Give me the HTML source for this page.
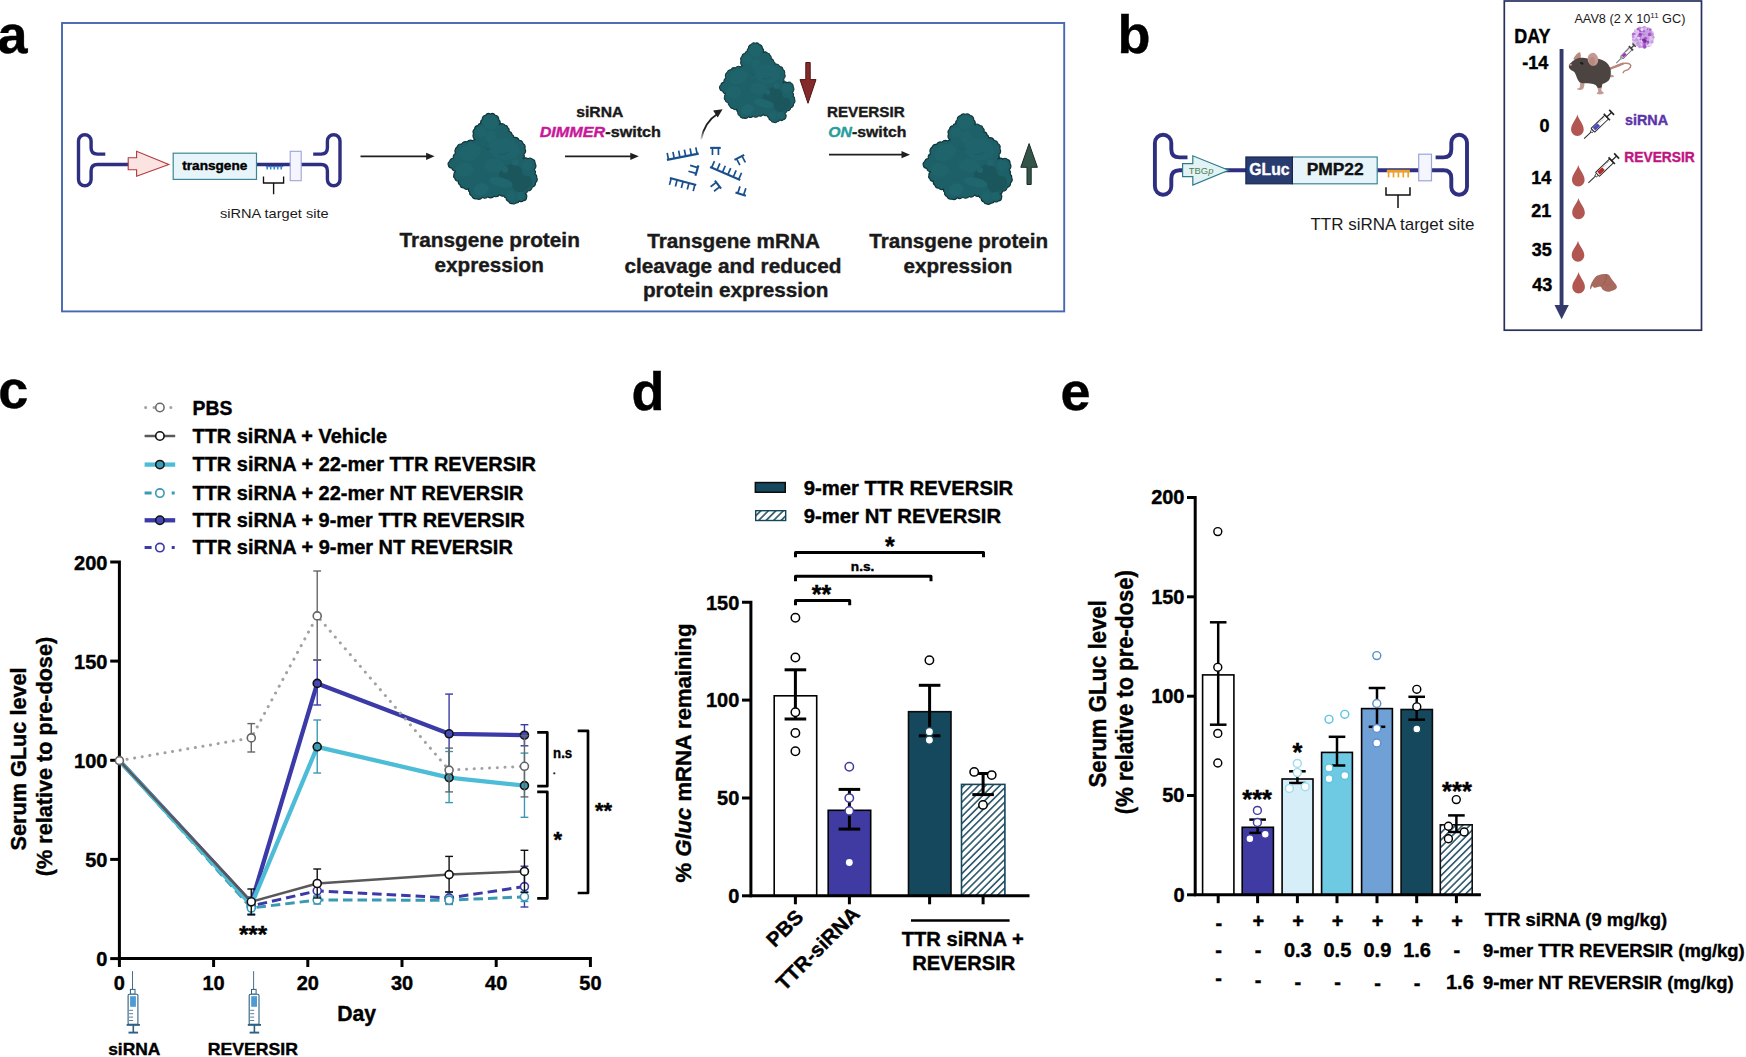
<!DOCTYPE html>
<html lang="en"><head><meta charset="utf-8"><title>Figure</title>
<style>
html,body{margin:0;padding:0;background:#fff;}
body{width:1746px;height:1057px;overflow:hidden;}
svg{display:block;font-family:"Liberation Sans",sans-serif;}
</style></head><body>
<svg width="1746" height="1057" viewBox="0 0 1746 1057">
<defs>
<g id="blob">
<path d="M52.22,19.58 A4.24,4.24 0 0 1 55.48,15.23 A3.95,3.95 0 0 1 60.38,13.93 A3.95,3.95 0 0 1 65.27,15.23 A4.35,4.35 0 0 1 68.76,19.58 A3.88,3.88 0 0 1 69.63,24.48 A4.28,4.28 0 0 1 75.07,25.24 A2.88,2.88 0 0 1 77.79,27.74 A3.09,3.09 0 0 1 78.87,31.55 A3.6,3.6 0 0 1 82.14,34.81 A2.47,2.47 0 0 1 83.77,37.53 A4.74,4.74 0 0 1 89.21,40.25 A3.91,3.91 0 0 1 93.02,43.52 A4.08,4.08 0 0 1 94.87,48.41 A4.74,4.74 0 0 1 93.78,54.4 A3.45,3.45 0 0 1 93.02,58.75 A3.82,3.82 0 0 1 97.91,58.75 A3.84,3.84 0 0 1 102.81,59.29 A3.42,3.42 0 0 1 104.98,63.1 A5.13,5.13 0 0 1 104.22,69.63 A3.45,3.45 0 0 1 104.98,73.98 A2.85,2.85 0 0 1 106.61,77.24 A4.33,4.33 0 0 1 105.53,82.68 A4.24,4.24 0 0 1 102.26,87.03 A4.84,4.84 0 0 1 97.37,90.84 A2.72,2.72 0 0 1 95.19,93.56 A3.17,3.17 0 0 1 96.61,97.37 A3.48,3.48 0 0 1 93.56,100.63 A3.4,3.4 0 0 1 89.21,100.96 A2.93,2.93 0 0 1 85.94,102.81 A3.03,3.03 0 0 1 82.14,103.57 A2.93,2.93 0 0 1 78.87,101.72 A3.65,3.65 0 0 1 76.15,97.91 A2.4,2.4 0 0 1 73.98,95.74 A3.5,3.5 0 0 1 69.63,94.65 A4.43,4.43 0 0 1 64.19,96.28 A5.11,5.11 0 0 1 57.66,96.82 A4.26,4.26 0 0 1 52.22,97.37 A4.38,4.38 0 0 1 46.78,98.78 A4.29,4.29 0 0 1 41.88,96.28 A3.79,3.79 0 0 1 39.71,91.93 A2.68,2.68 0 0 1 38.62,88.66 A3.86,3.86 0 0 1 33.72,87.9 A3.8,3.8 0 0 1 29.92,84.86 A3.17,3.17 0 0 1 28.5,81.05 A3.58,3.58 0 0 1 24.8,78.33 A2.63,2.63 0 0 1 23.93,75.07 A3.42,3.42 0 0 1 26.11,71.26 A4.24,4.24 0 0 1 21.76,67.99 A3.55,3.55 0 0 1 18.28,65.06 A2.98,2.98 0 0 1 19.58,61.47 A3.91,3.91 0 0 1 23.39,58.2 A4.18,4.18 0 0 1 25.57,53.31 A5.25,5.25 0 0 1 27.2,46.78 A4,4 0 0 1 31.55,44.06 A4.57,4.57 0 0 1 36.99,41.88 A4.74,4.74 0 0 1 42.97,40.8 A1.9,1.9 0 0 1 45.15,39.71 A4.84,4.84 0 0 1 43.52,33.72 A3.91,3.91 0 0 1 44.6,28.83 A3.6,3.6 0 0 1 47.87,25.57 A2.92,2.92 0 0 1 50.91,23.39 A3.14,3.14 0 0 1 52.22,19.58Z" fill="#1e6068" stroke="#0d3439" stroke-width="1.15" stroke-linejoin="round"/>
<path d="M76.15,66.36 C78.15,65.18 80.32,63.46 82.68,63.64 C85.04,63.82 88.48,65.55 90.3,67.45 C92.11,69.35 91.84,73.43 93.56,75.07 C95.28,76.7 99.27,75.61 100.63,77.24 C101.99,78.87 102.53,82.68 101.72,84.86 C100.9,87.03 97.82,89.03 95.74,90.3 C93.65,91.57 91.2,92.65 89.21,92.47 C87.21,92.29 85.22,90.84 83.77,89.21 C82.32,87.58 82.86,84.68 80.5,82.68 C78.15,80.69 71.26,79.24 69.63,77.24 C67.99,75.25 69.63,72.53 70.71,70.71 C71.8,68.9 74.16,67.54 76.15,66.36Z" fill="#1b565d"/>
<ellipse cx="60.38" cy="22.3" rx="7.4" ry="7.18" fill="#1f636b" transform="rotate(0 60.38 22.3)"/>
<ellipse cx="51.13" cy="32.09" rx="5.66" ry="5.22" fill="#1f636b" transform="rotate(0 51.13 32.09)"/>
<ellipse cx="60.92" cy="36.99" rx="5.66" ry="6.31" fill="#1f636b" transform="rotate(0 60.92 36.99)"/>
<ellipse cx="40.25" cy="52.22" rx="11.42" ry="8.16" fill="#1f636b" transform="rotate(-20 40.25 52.22)"/>
<ellipse cx="73.98" cy="48.96" rx="15.23" ry="10.88" fill="#1f646c" transform="rotate(10 73.98 48.96)"/>
<ellipse cx="64.19" cy="65.27" rx="10.34" ry="7.07" fill="#1f636b" transform="rotate(0 64.19 65.27)"/>
<ellipse cx="34.81" cy="69.63" rx="9.25" ry="7.07" fill="#1f636b" transform="rotate(0 34.81 69.63)"/>
<ellipse cx="51.13" cy="89.21" rx="7.62" ry="5.98" fill="#20666e" transform="rotate(-20 51.13 89.21)"/>
<ellipse cx="70.71" cy="82.14" rx="11.97" ry="4.57" fill="#20666e" transform="rotate(12 70.71 82.14)"/>
<ellipse cx="85.4" cy="62.55" rx="3.59" ry="3.26" fill="#20656d" transform="rotate(0 85.4 62.55)"/>
<ellipse cx="97.37" cy="65.27" rx="5.44" ry="5.66" fill="#1f636b" transform="rotate(0 97.37 65.27)"/>
<ellipse cx="81.05" cy="95.74" rx="4.57" ry="5" fill="#1f636b" transform="rotate(0 81.05 95.74)"/>
<ellipse cx="90.3" cy="95.74" rx="3.92" ry="3.92" fill="#1f636b" transform="rotate(0 90.3 95.74)"/>
<ellipse cx="75.07" cy="69.63" rx="2.83" ry="3.05" fill="#20656d" transform="rotate(0 75.07 69.63)"/>
<path d="M54.4,46.78 C54.94,47.23 56.57,49.32 57.66,49.5 C58.75,49.68 60.38,48.14 60.92,47.87" fill="none" stroke="#1a555c" stroke-width="0.7" stroke-linecap="round"/>
<path d="M69.63,54.4 C70.53,54.3 73.61,54.21 75.07,53.85 C76.52,53.49 77.79,52.49 78.33,52.22" fill="none" stroke="#1a555c" stroke-width="0.7" stroke-linecap="round"/>
</g>
<pattern id="hatch" width="5.06" height="5.06" patternUnits="userSpaceOnUse" patternTransform="rotate(-45) translate(0 0)"><rect width="5.06" height="5.06" fill="#fff"/><line x1="0" y1="2.53" x2="5.06" y2="2.53" stroke="#14465c" stroke-width="1.45"/></pattern>
<pattern id="hatchs" width="5.06" height="5.06" patternUnits="userSpaceOnUse" patternTransform="rotate(-45) translate(1.2 1.2)"><rect width="5.06" height="5.06" fill="#fff"/><line x1="0" y1="2.53" x2="5.06" y2="2.53" stroke="#14465c" stroke-width="1.45"/></pattern>
<pattern id="hatchl" width="5.3" height="5.3" patternUnits="userSpaceOnUse" patternTransform="rotate(-45) translate(0.8 0.8)"><rect width="5.3" height="5.3" fill="#fff"/><line x1="0" y1="2.65" x2="5.3" y2="2.65" stroke="#14465c" stroke-width="1.5"/></pattern>
</defs>
<g id="panel-a">
<text x="-2.5" y="52.7" font-size="54" font-weight="bold" stroke="#000" stroke-width="0.4">a</text>
<rect x="62" y="23" width="1002.2" height="288.4" fill="none" stroke="#4668b2" stroke-width="1.9"/>
<path d="M105.3,154.1 H97.4 Q91.1,154.1 91.1,147.8 V141 A6.3,6.3 0 0 0 78.5,141 V179.5 A6.3,6.3 0 0 0 91.1,179.5 V170.8 Q91.1,164.5 97.4,164.5 H130" fill="none" stroke="#2e2f80" stroke-width="3.4" stroke-linejoin="round"/>
<path d="M313.2,154.1 H321.1 Q327.4,154.1 327.4,147.8 V141 A6.3,6.3 0 0 1 340,141 V179.5 A6.3,6.3 0 0 1 327.4,179.5 V170.8 Q327.4,164.5 321.1,164.5 H255" fill="none" stroke="#2e2f80" stroke-width="3.4" stroke-linejoin="round"/>
<path d="M128.2,157.7 H136.6 V151.3 L168.8,164.5 L136.6,176.3 V169.7 H128.2Z" fill="#fbe3e1" stroke="#b2393c" stroke-width="1.1" stroke-linejoin="miter"/>
<line x1="265.8" y1="166.6" x2="283.2" y2="166.6" stroke="#3d7fc4" stroke-width="1.2"/>
<line x1="267.2" y1="166" x2="267.2" y2="169.5" stroke="#3d7fc4" stroke-width="1.5"/>
<line x1="270.7" y1="166" x2="270.7" y2="169.5" stroke="#3d7fc4" stroke-width="1.5"/>
<line x1="274.2" y1="166" x2="274.2" y2="169.5" stroke="#3d7fc4" stroke-width="1.5"/>
<line x1="277.7" y1="166" x2="277.7" y2="169.5" stroke="#3d7fc4" stroke-width="1.5"/>
<line x1="281.2" y1="166" x2="281.2" y2="169.5" stroke="#3d7fc4" stroke-width="1.5"/>
<rect x="173.2" y="153.2" width="83.3" height="26.2" fill="#e7f5fb" stroke="#3b8794" stroke-width="1.2"/>
<text x="214.8" y="170.3" font-size="13" font-weight="bold" stroke="#000" stroke-width="0.4" text-anchor="middle" textLength="65" lengthAdjust="spacingAndGlyphs">transgene</text>
<rect x="290.2" y="151.3" width="11" height="29.4" fill="#f5f5fd" stroke="#9ea3da" stroke-width="1.1"/>
<path d="M263.5,176.6 V183 H283.6 V176.6 M273.6,183 V194.2" fill="none" stroke="#111" stroke-width="1.35"/>
<text x="274.3" y="217.9" font-size="12.2" text-anchor="middle" fill="#1a1a1a" textLength="108.6" lengthAdjust="spacingAndGlyphs">siRNA target site</text>
<line x1="360.5" y1="156.3" x2="427.1" y2="156.3" stroke="#1f1f1f" stroke-width="1.8"/>
<path d="M434.6,156.3 L426.1,152.7 L426.1,159.9Z" fill="#1f1f1f"/>
<line x1="565" y1="156.3" x2="631.3" y2="156.3" stroke="#1f1f1f" stroke-width="1.8"/>
<path d="M638.8,156.3 L630.3,152.7 L630.3,159.9Z" fill="#1f1f1f"/>
<line x1="829" y1="154.7" x2="902.5" y2="154.7" stroke="#1f1f1f" stroke-width="1.8"/>
<path d="M910,154.7 L901.5,151.1 L901.5,158.3Z" fill="#1f1f1f"/>
<use href="#blob" transform="translate(430,100)"/>
<use href="#blob" transform="translate(704.2,31) scale(0.847,0.881)"/>
<use href="#blob" transform="translate(905,100.3)"/>
<g stroke="#19508c" stroke-linecap="butt" fill="none">
<line x1="666.92" y1="159.9" x2="698.71" y2="153.64" stroke="#19508c" stroke-width="2.1"/>
<line x1="668.51" y1="159.59" x2="667.2" y2="152.96" stroke="#19508c" stroke-width="1.7"/>
<line x1="674.23" y1="158.46" x2="672.93" y2="151.83" stroke="#19508c" stroke-width="1.7"/>
<line x1="679.95" y1="157.33" x2="678.65" y2="150.71" stroke="#19508c" stroke-width="1.7"/>
<line x1="685.67" y1="156.21" x2="684.37" y2="149.58" stroke="#19508c" stroke-width="1.7"/>
<line x1="691.4" y1="155.08" x2="690.09" y2="148.45" stroke="#19508c" stroke-width="1.7"/>
<line x1="697.12" y1="153.95" x2="695.81" y2="147.33" stroke="#19508c" stroke-width="1.7"/>
<line x1="669.9" y1="177.98" x2="696.22" y2="184.93" stroke="#19508c" stroke-width="2.1"/>
<line x1="671.22" y1="178.33" x2="669.49" y2="184.86" stroke="#19508c" stroke-width="1.7"/>
<line x1="677.14" y1="179.89" x2="675.41" y2="186.42" stroke="#19508c" stroke-width="1.7"/>
<line x1="683.06" y1="181.45" x2="681.34" y2="187.98" stroke="#19508c" stroke-width="1.7"/>
<line x1="688.98" y1="183.02" x2="687.26" y2="189.55" stroke="#19508c" stroke-width="1.7"/>
<line x1="694.91" y1="184.58" x2="693.18" y2="191.11" stroke="#19508c" stroke-width="1.7"/>
<line x1="710.13" y1="167.05" x2="740.23" y2="179.96" stroke="#19508c" stroke-width="2.1"/>
<line x1="711.64" y1="167.7" x2="714.46" y2="161.12" stroke="#19508c" stroke-width="1.7"/>
<line x1="717.05" y1="170.02" x2="719.87" y2="163.45" stroke="#19508c" stroke-width="1.7"/>
<line x1="722.47" y1="172.35" x2="725.29" y2="165.77" stroke="#19508c" stroke-width="1.7"/>
<line x1="727.89" y1="174.67" x2="730.71" y2="168.1" stroke="#19508c" stroke-width="1.7"/>
<line x1="733.31" y1="176.99" x2="736.13" y2="170.42" stroke="#19508c" stroke-width="1.7"/>
<line x1="738.72" y1="179.32" x2="741.54" y2="172.75" stroke="#19508c" stroke-width="1.7"/>
<line x1="698.41" y1="165.36" x2="695.43" y2="175.69" stroke="#19508c" stroke-width="2.1"/>
<line x1="697.75" y1="167.63" x2="690.12" y2="165.43" stroke="#19508c" stroke-width="1.7"/>
<line x1="696.08" y1="173.42" x2="688.45" y2="171.22" stroke="#19508c" stroke-width="1.7"/>
<line x1="710.13" y1="147.88" x2="720.76" y2="147.88" stroke="#19508c" stroke-width="2.1"/>
<line x1="712.47" y1="147.88" x2="712.47" y2="155.03" stroke="#19508c" stroke-width="1.7"/>
<line x1="718.42" y1="147.88" x2="718.42" y2="155.03" stroke="#19508c" stroke-width="1.7"/>
<line x1="734.47" y1="159.9" x2="744.2" y2="154.93" stroke="#19508c" stroke-width="2.1"/>
<line x1="736.61" y1="158.81" x2="739.86" y2="165.18" stroke="#19508c" stroke-width="1.7"/>
<line x1="742.06" y1="156.02" x2="745.31" y2="162.4" stroke="#19508c" stroke-width="1.7"/>
<line x1="714.9" y1="180.66" x2="721.06" y2="188.71" stroke="#19508c" stroke-width="2.1"/>
<line x1="716.25" y1="182.43" x2="710.57" y2="186.78" stroke="#19508c" stroke-width="1.7"/>
<line x1="719.7" y1="186.94" x2="714.02" y2="191.28" stroke="#19508c" stroke-width="1.7"/>
<line x1="735.46" y1="192.38" x2="745.89" y2="195.86" stroke="#19508c" stroke-width="2.1"/>
<line x1="737.76" y1="193.15" x2="740.02" y2="186.36" stroke="#19508c" stroke-width="1.7"/>
<line x1="743.6" y1="195.09" x2="745.86" y2="188.31" stroke="#19508c" stroke-width="1.7"/>
</g>
<defs><linearGradient id="cag" x1="0" y1="1" x2="0" y2="0"><stop offset="0" stop-color="#1f1f1f" stop-opacity="0.15"/><stop offset="0.35" stop-color="#1f1f1f"/></linearGradient></defs>
<path d="M701.2,139.3 Q704.5,122 718,113.5" fill="none" stroke="url(#cag)" stroke-width="1.9"/>
<path d="M722.6,109.3 L713.1,110.5 L717.7,117.5Z" fill="#1f1f1f"/>
<path d="M805.8,62.5 H810.2 V79.6 H816 L808,103.3 L800,79.6 H805.8Z" fill="#842a2a" stroke="#4d1414" stroke-width="1" stroke-linejoin="miter"/>
<path d="M1027,184.5 H1031.2 V167.3 H1037.4 L1029.1,143.6 L1020.8,167.3 H1027Z" fill="#33554a" stroke="#1a2b25" stroke-width="1" stroke-linejoin="miter"/>
<text x="489.7" y="246.8" font-size="20.6" font-weight="bold" stroke="#1a1a1a" stroke-width="0.4" text-anchor="middle" fill="#1a1a1a" textLength="180.3" lengthAdjust="spacingAndGlyphs">Transgene protein</text>
<text x="489.2" y="272.2" font-size="20.6" font-weight="bold" stroke="#1a1a1a" stroke-width="0.4" text-anchor="middle" fill="#1a1a1a" textLength="109.3" lengthAdjust="spacingAndGlyphs">expression</text>
<text x="599.8" y="117.2" font-size="15.5" font-weight="bold" stroke="#1a1a1a" stroke-width="0.4" text-anchor="middle" fill="#1a1a1a" textLength="47.1" lengthAdjust="spacingAndGlyphs">siRNA</text>
<text x="539.7" y="136.6" font-size="15.5" font-weight="bold" stroke="#1a1a1a" stroke-width="0.4" fill="#1a1a1a" textLength="121.3" lengthAdjust="spacingAndGlyphs"><tspan fill="#c8189a" stroke="#c8189a" font-style="italic">DIMMER</tspan>-switch</text>
<text x="827" y="117.4" font-size="15.5" font-weight="bold" stroke="#1a1a1a" stroke-width="0.4" fill="#1a1a1a" textLength="77.6" lengthAdjust="spacingAndGlyphs">REVERSIR</text>
<text x="828.2" y="137" font-size="15.5" font-weight="bold" stroke="#1a1a1a" stroke-width="0.4" fill="#1a1a1a" textLength="78.2" lengthAdjust="spacingAndGlyphs"><tspan fill="#2a9d9d" stroke="#2a9d9d" font-style="italic">ON</tspan>-switch</text>
<text x="733.6" y="247.7" font-size="20.6" font-weight="bold" stroke="#1a1a1a" stroke-width="0.4" text-anchor="middle" fill="#1a1a1a" textLength="172.6" lengthAdjust="spacingAndGlyphs">Transgene mRNA</text>
<text x="732.9" y="272.6" font-size="20.6" font-weight="bold" stroke="#1a1a1a" stroke-width="0.4" text-anchor="middle" fill="#1a1a1a" textLength="217" lengthAdjust="spacingAndGlyphs">cleavage and reduced</text>
<text x="735.7" y="297.3" font-size="20.6" font-weight="bold" stroke="#1a1a1a" stroke-width="0.4" text-anchor="middle" fill="#1a1a1a" textLength="185.5" lengthAdjust="spacingAndGlyphs">protein expression</text>
<text x="958.7" y="247.7" font-size="20.6" font-weight="bold" stroke="#1a1a1a" stroke-width="0.4" text-anchor="middle" fill="#1a1a1a" textLength="179" lengthAdjust="spacingAndGlyphs">Transgene protein</text>
<text x="958" y="272.6" font-size="20.6" font-weight="bold" stroke="#1a1a1a" stroke-width="0.4" text-anchor="middle" fill="#1a1a1a" textLength="108.8" lengthAdjust="spacingAndGlyphs">expression</text>
</g>
<g id="panel-b">
<text x="1117.5" y="53.3" font-size="54" font-weight="bold" stroke="#000" stroke-width="0.4">b</text>
<path d="M1187.5,157.4 H1179.5 Q1171.3,157.4 1171.3,149.2 V143 A8.2,8.2 0 0 0 1154.9,143 V186.6 A8.2,8.2 0 0 0 1171.3,186.6 V178.4 Q1171.3,170.2 1179.5,170.2 H1246" fill="none" stroke="#2e2f80" stroke-width="3.9" stroke-linejoin="round"/>
<path d="M1435.6,157.4 H1443.45 Q1451.3,157.4 1451.3,149.55 V142.65 A7.85,7.85 0 0 1 1467,142.65 V186.95 A7.85,7.85 0 0 1 1451.3,186.95 V178.05 Q1451.3,170.2 1443.45,170.2 H1377" fill="none" stroke="#2e2f80" stroke-width="3.9" stroke-linejoin="round"/>
<path d="M1182.6,163.7 H1192.8 V155.8 L1228.6,170.2 L1192.8,185 V176.7 H1182.6Z" fill="#e2f3f5" stroke="#2d7c86" stroke-width="1.2"/>
<text x="1188.8" y="174.4" font-size="9" fill="#4f7c52" textLength="24.6" lengthAdjust="spacingAndGlyphs">TBG<tspan font-style="italic">p</tspan></text>
<rect x="1292.4" y="157" width="84.8" height="26.8" fill="#e7f5fb" stroke="#3b8794" stroke-width="1.2"/>
<rect x="1245.9" y="157" width="46.5" height="26.8" fill="#283c70" stroke="#18264f" stroke-width="1.2"/>
<text x="1269.4" y="175.3" font-size="17" font-weight="bold" stroke="#fff" stroke-width="0.4" text-anchor="middle" fill="#fff" textLength="40.2" lengthAdjust="spacingAndGlyphs">GLuc</text>
<text x="1335.2" y="175.3" font-size="17" font-weight="bold" stroke="#111" stroke-width="0.4" text-anchor="middle" fill="#111" textLength="57" lengthAdjust="spacingAndGlyphs">PMP22</text>
<line x1="1386.8" y1="170.9" x2="1409.9" y2="170.9" stroke="#f0a21e" stroke-width="2.4"/>
<line x1="1388.6" y1="170.4" x2="1388.6" y2="177.4" stroke="#f0a21e" stroke-width="1.7"/>
<line x1="1393.5" y1="170.4" x2="1393.5" y2="177.4" stroke="#f0a21e" stroke-width="1.7"/>
<line x1="1398.4" y1="170.4" x2="1398.4" y2="177.4" stroke="#f0a21e" stroke-width="1.7"/>
<line x1="1403.3" y1="170.4" x2="1403.3" y2="177.4" stroke="#f0a21e" stroke-width="1.7"/>
<line x1="1408.2" y1="170.4" x2="1408.2" y2="177.4" stroke="#f0a21e" stroke-width="1.7"/>
<rect x="1418.7" y="154.2" width="12.8" height="26.6" fill="#f5f5fd" stroke="#9ea3da" stroke-width="1.2"/>
<path d="M1386,187.3 V195 H1410 V187.3 M1398,195 V208" fill="none" stroke="#111" stroke-width="1.5"/>
<text x="1310.5" y="230" font-size="17" fill="#1a1a1a" textLength="164" lengthAdjust="spacingAndGlyphs">TTR siRNA target site</text>
<rect x="1504.3" y="1" width="197.2" height="329.2" fill="none" stroke="#27305f" stroke-width="1.7"/>
<text x="1574.4" y="22.5" font-size="12" fill="#1a1a1a" textLength="111" lengthAdjust="spacingAndGlyphs">AAV8 (2 X 10<tspan font-size="7.5" dy="-4.5">11</tspan><tspan dy="4.5"> GC)</tspan></text>
<text x="1514.2" y="42.8" font-size="20" font-weight="bold" stroke="#000" stroke-width="0.4" textLength="36.2" lengthAdjust="spacingAndGlyphs">DAY</text>
<text x="1548.2" y="68.6" font-size="18" font-weight="bold" stroke="#000" stroke-width="0.4" text-anchor="end">-14</text>
<text x="1549.6" y="131.5" font-size="18" font-weight="bold" stroke="#000" stroke-width="0.4" text-anchor="end">0</text>
<text x="1551.2" y="183.8" font-size="18" font-weight="bold" stroke="#000" stroke-width="0.4" text-anchor="end">14</text>
<text x="1551.2" y="216.7" font-size="18" font-weight="bold" stroke="#000" stroke-width="0.4" text-anchor="end">21</text>
<text x="1551.8" y="256" font-size="18" font-weight="bold" stroke="#000" stroke-width="0.4" text-anchor="end">35</text>
<text x="1552.4" y="291.2" font-size="18" font-weight="bold" stroke="#000" stroke-width="0.4" text-anchor="end">43</text>
<rect x="1559.6" y="49" width="3.9" height="257" fill="#343a6c"/>
<path d="M1554.5,305 H1568.8 L1561.6,319.2Z" fill="#343a6c"/>
<path d="M1577.4,114.6 C1578.6,119.95 1583.7,123.9 1583.7,129.57 C1583.7,133.1 1580.93,136 1577.4,136 C1573.87,136 1571.1,133.1 1571.1,129.57 C1571.1,123.9 1576.2,119.95 1577.4,114.6Z" fill="#b15650"/>
<path d="M1578.3,165 C1579.5,170.35 1584.6,174.3 1584.6,179.97 C1584.6,183.5 1581.83,186.4 1578.3,186.4 C1574.77,186.4 1572,183.5 1572,179.97 C1572,174.3 1577.1,170.35 1578.3,165Z" fill="#b15650"/>
<path d="M1578.5,198.1 C1579.7,203.38 1584.8,207.1 1584.8,212.77 C1584.8,216.3 1582.03,219.2 1578.5,219.2 C1574.97,219.2 1572.2,216.3 1572.2,212.77 C1572.2,207.1 1577.3,203.38 1578.5,198.1Z" fill="#b15650"/>
<path d="M1578,240.7 C1579.2,245.97 1584.3,249.7 1584.3,255.37 C1584.3,258.9 1581.53,261.8 1578,261.8 C1574.47,261.8 1571.7,258.9 1571.7,255.37 C1571.7,249.7 1576.8,245.97 1578,240.7Z" fill="#b15650"/>
<path d="M1578.6,271.9 C1579.8,277.27 1584.9,281.3 1584.9,286.97 C1584.9,290.5 1582.13,293.4 1578.6,293.4 C1575.07,293.4 1572.3,290.5 1572.3,286.97 C1572.3,281.3 1577.4,277.27 1578.6,271.9Z" fill="#b15650"/>
<g>
<path d="M1609.96,68.45 C1610.97,68.07 1613.87,67 1616.02,66.18 C1618.16,65.36 1620.75,63.97 1622.83,63.53 C1624.91,63.09 1627.18,63.15 1628.51,63.53 C1629.83,63.91 1630.78,64.85 1630.78,65.8 C1630.78,66.74 1629.58,68.32 1628.51,69.21 C1627.44,70.09 1625.23,70.53 1624.35,71.1 C1623.46,71.67 1623.4,72.36 1623.21,72.61" fill="none" stroke="#b8867a" stroke-width="1.5" stroke-linecap="round"/>
<path d="M1609.58,68.83 C1610.66,68.41 1613.81,67.17 1616.02,66.33 C1618.23,65.48 1621.7,64.18 1622.83,63.75" fill="none" stroke="#b8867a" stroke-width="2.3" stroke-linecap="round"/>
<path d="M1609.21,74.5 C1609.84,74.25 1612.17,74.91 1612.99,75.26 C1613.81,75.61 1614.38,76.27 1614.13,76.62 C1613.87,76.98 1612.3,77.36 1611.48,77.38 C1610.66,77.41 1609.58,77.25 1609.21,76.78 C1608.83,76.3 1608.57,74.76 1609.21,74.5Z" fill="#c39a93"/>
<path d="M1580.44,82.83 C1581.17,82.14 1583.62,82.58 1584.22,83.21 C1584.83,83.84 1584.33,85.61 1584.07,86.62 C1583.82,87.63 1583.5,88.7 1582.71,89.27 C1581.92,89.83 1580.25,90.06 1579.3,90.02 C1578.36,89.98 1576.94,89.48 1577.03,89.04 C1577.12,88.6 1579.27,88.41 1579.83,87.37 C1580.4,86.34 1579.71,83.53 1580.44,82.83Z" fill="#c39a93"/>
<path d="M1597.47,86.62 C1598.04,85.86 1600.97,85.99 1601.64,86.62 C1602.3,87.25 1601.11,89.33 1601.48,90.4 C1601.86,91.47 1604.01,92.39 1603.91,93.05 C1603.81,93.71 1602.08,94.21 1600.88,94.34 C1599.68,94.46 1597.16,94.34 1596.71,93.81 C1596.27,93.28 1598.1,92.36 1598.23,91.16 C1598.35,89.96 1596.9,87.37 1597.47,86.62Z" fill="#c39a93"/>
<path d="M1573.63,59.36 C1573.18,58.42 1575.24,55.64 1576.28,54.44 C1577.31,53.25 1579.08,51.86 1579.83,52.17 C1580.59,52.49 1580.97,55.01 1580.82,56.34 C1580.67,57.66 1580.12,59.62 1578.93,60.12 C1577.73,60.63 1574.07,60.31 1573.63,59.36Z" fill="#b98a82"/>
<path d="M1569.08,64.66 C1569.44,63.72 1570.47,63.15 1571.36,62.39 C1572.24,61.64 1573.25,60.82 1574.38,60.12 C1575.52,59.43 1576.78,58.61 1578.17,58.23 C1579.56,57.85 1581.2,57.79 1582.71,57.85 C1584.22,57.91 1585.61,58.48 1587.25,58.61 C1588.89,58.73 1590.53,58.54 1592.55,58.61 C1594.57,58.67 1597.35,58.54 1599.36,58.99 C1601.38,59.43 1603.15,60.31 1604.66,61.26 C1606.18,62.2 1607.46,63.34 1608.45,64.66 C1609.43,65.99 1610.19,67.56 1610.57,69.21 C1610.95,70.85 1610.95,72.74 1610.72,74.5 C1610.49,76.27 1610.09,78.42 1609.21,79.8 C1608.32,81.19 1606.56,82.07 1605.42,82.83 C1604.28,83.59 1603.02,83.59 1602.39,84.35 C1601.76,85.1 1602.39,86.81 1601.64,87.37 C1600.88,87.94 1598.86,88.13 1597.85,87.75 C1596.84,87.37 1596.84,85.8 1595.58,85.1 C1594.32,84.41 1592.05,83.9 1590.28,83.59 C1588.51,83.27 1586.62,83.34 1584.98,83.21 C1583.34,83.08 1581.64,83.4 1580.44,82.83 C1579.24,82.26 1578.48,80.94 1577.79,79.8 C1577.1,78.67 1576.84,77.28 1576.28,76.02 C1575.71,74.76 1575.2,73.18 1574.38,72.23 C1573.56,71.29 1572.21,71.03 1571.36,70.34 C1570.5,69.65 1569.61,69.02 1569.24,68.07 C1568.86,67.12 1568.73,65.61 1569.08,64.66Z" fill="#4c4441"/>
<ellipse cx="1592.93" cy="59.36" rx="5.3" ry="6.51" fill="#c39a93" transform="rotate(-8 1592.93 59.36)"/>
<ellipse cx="1592.17" cy="61.26" rx="2.88" ry="4.16" fill="#b98880" transform="rotate(-8 1592.17 61.26)"/>
<ellipse cx="1570.6" cy="64.81" rx="1.36" ry="1.06" fill="#c99a96"/>
<ellipse cx="1581.73" cy="63.3" rx="1.82" ry="1.14" fill="#1d1817" transform="rotate(25 1581.73 63.3)"/>
</g>
<g>
<path d="M1654.8,37.3 C1654.8,38.13 1653.56,38.9 1653.34,39.8 C1653.12,40.7 1653.86,41.95 1653.47,42.69 C1653.08,43.43 1651.63,43.53 1651.01,44.22 C1650.4,44.92 1650.47,46.37 1649.79,46.85 C1649.1,47.32 1647.77,46.73 1646.9,47.06 C1646.04,47.39 1645.42,48.72 1644.6,48.82 C1643.77,48.92 1642.86,47.78 1641.94,47.66 C1641.02,47.55 1639.87,48.44 1639.09,48.15 C1638.31,47.85 1638.03,46.42 1637.27,45.89 C1636.51,45.37 1635.07,45.62 1634.52,44.99 C1633.97,44.37 1634.39,42.97 1633.96,42.15 C1633.53,41.33 1632.14,40.88 1631.94,40.08 C1631.74,39.27 1632.76,38.23 1632.76,37.3 C1632.76,36.37 1631.74,35.33 1631.94,34.52 C1632.14,33.72 1633.53,33.27 1633.96,32.45 C1634.39,31.63 1633.97,30.23 1634.52,29.61 C1635.07,28.98 1636.51,29.23 1637.27,28.71 C1638.03,28.18 1638.31,26.75 1639.09,26.45 C1639.87,26.16 1641.02,27.05 1641.94,26.94 C1642.86,26.82 1643.77,25.68 1644.6,25.78 C1645.42,25.88 1646.04,27.21 1646.9,27.54 C1647.77,27.87 1649.1,27.28 1649.79,27.75 C1650.47,28.23 1650.4,29.68 1651.01,30.38 C1651.63,31.07 1653.08,31.17 1653.47,31.91 C1653.86,32.65 1653.12,33.9 1653.34,34.8 C1653.56,35.7 1654.8,36.47 1654.8,37.3Z" fill="#c7a0e2"/>
<circle cx="1641.34" cy="41.01" r="0.97" fill="#e3cdf3"/>
<circle cx="1636.9" cy="35.85" r="1.81" fill="#e3cdf3"/>
<circle cx="1643.89" cy="40.36" r="0.97" fill="#b06fd0"/>
<circle cx="1649.07" cy="41.06" r="1.85" fill="#d9bdec"/>
<circle cx="1637.63" cy="31.33" r="1.48" fill="#e3cdf3"/>
<circle cx="1634.78" cy="43.69" r="1.46" fill="#e3cdf3"/>
<circle cx="1647.84" cy="42.44" r="1.02" fill="#a95fca"/>
<circle cx="1639.73" cy="46.32" r="1" fill="#c495de"/>
<circle cx="1639.02" cy="35.29" r="1.45" fill="#d9bdec"/>
<circle cx="1645.61" cy="38.3" r="1.4" fill="#a24cc2"/>
<circle cx="1633.96" cy="35.43" r="1.49" fill="#dcc3ee"/>
<circle cx="1637.6" cy="39" r="1.6" fill="#c495de"/>
<circle cx="1643.5" cy="45.4" r="1.4" fill="#a95fca"/>
<circle cx="1639.23" cy="43.26" r="1.02" fill="#d9bdec"/>
<circle cx="1635.1" cy="41.88" r="1.83" fill="#c495de"/>
<circle cx="1633.95" cy="42.26" r="1.66" fill="#d9bdec"/>
<circle cx="1634.23" cy="32.87" r="1.24" fill="#e9daf6"/>
<circle cx="1638.76" cy="43.39" r="0.97" fill="#dcc3ee"/>
<circle cx="1647.82" cy="40.38" r="0.96" fill="#d9bdec"/>
<circle cx="1640.62" cy="29.09" r="1.18" fill="#dcc3ee"/>
<circle cx="1636.61" cy="43.05" r="1.84" fill="#e3cdf3"/>
<circle cx="1638.06" cy="43.89" r="0.96" fill="#dcc3ee"/>
<circle cx="1643.64" cy="33.48" r="1.3" fill="#a24cc2"/>
<circle cx="1649.73" cy="33.54" r="1.35" fill="#c495de"/>
<circle cx="1633.63" cy="34.23" r="1.76" fill="#b06fd0"/>
<circle cx="1641.98" cy="44.08" r="1.58" fill="#e9daf6"/>
<circle cx="1639.45" cy="40.81" r="1.08" fill="#d9bdec"/>
<circle cx="1643.78" cy="42.43" r="1.73" fill="#dcc3ee"/>
<circle cx="1645.54" cy="42.47" r="1.32" fill="#c495de"/>
<circle cx="1637.72" cy="43.19" r="1.59" fill="#c495de"/>
<circle cx="1634.84" cy="36.48" r="1.36" fill="#e3cdf3"/>
<circle cx="1650.39" cy="29.74" r="1.29" fill="#a95fca"/>
<circle cx="1640.43" cy="39.34" r="0.96" fill="#b06fd0"/>
<circle cx="1647.66" cy="39.31" r="1.01" fill="#c495de"/>
<circle cx="1640.44" cy="35.28" r="1.44" fill="#c495de"/>
<circle cx="1651.15" cy="34.66" r="1.77" fill="#d9bdec"/>
<circle cx="1640.09" cy="34.59" r="1.86" fill="#9a3fbb"/>
<circle cx="1637.3" cy="32.89" r="1.75" fill="#d9bdec"/>
<circle cx="1650.49" cy="36.98" r="1.21" fill="#dcc3ee"/>
<circle cx="1648.92" cy="44.59" r="1.38" fill="#9a3fbb"/>
<circle cx="1640.46" cy="30.12" r="1.85" fill="#a24cc2"/>
<circle cx="1639.17" cy="36.58" r="1.81" fill="#a95fca"/>
<circle cx="1643.5" cy="31.47" r="1.6" fill="#d9bdec"/>
<circle cx="1642.75" cy="43.76" r="1.26" fill="#c495de"/>
<circle cx="1644.54" cy="45.06" r="1.23" fill="#a95fca"/>
<circle cx="1644.82" cy="46.8" r="1.71" fill="#a24cc2"/>
<circle cx="1647.03" cy="28.94" r="1.1" fill="#a24cc2"/>
<circle cx="1634.07" cy="37.71" r="1.69" fill="#e3cdf3"/>
<circle cx="1638.57" cy="38.12" r="1.35" fill="#e9daf6"/>
<circle cx="1653.01" cy="33.2" r="0.98" fill="#e9daf6"/>
<circle cx="1649.07" cy="41.69" r="1.1" fill="#e9daf6"/>
<circle cx="1635.98" cy="30.17" r="1.38" fill="#e3cdf3"/>
<circle cx="1637.72" cy="29.46" r="1.73" fill="#d9bdec"/>
<circle cx="1648.06" cy="41.86" r="1.38" fill="#a24cc2"/>
<circle cx="1647.32" cy="45.86" r="0.99" fill="#e9daf6"/>
<circle cx="1651.77" cy="34.28" r="1.3" fill="#dcc3ee"/>
<circle cx="1651.8" cy="34.31" r="1.89" fill="#c495de"/>
<circle cx="1651.3" cy="38.72" r="1.71" fill="#dcc3ee"/>
<circle cx="1649.1" cy="45.03" r="1.56" fill="#dcc3ee"/>
<circle cx="1638.53" cy="43.7" r="0.92" fill="#c495de"/>
<circle cx="1645.98" cy="28.62" r="1.43" fill="#d9bdec"/>
<circle cx="1649.64" cy="34.45" r="1.73" fill="#a24cc2"/>
<circle cx="1644.5" cy="42.51" r="1.4" fill="#9a3fbb"/>
<circle cx="1643.72" cy="31.22" r="1.32" fill="#a95fca"/>
<circle cx="1650.13" cy="44.78" r="1.8" fill="#e9daf6"/>
<circle cx="1638.15" cy="29.07" r="1.32" fill="#a95fca"/>
<circle cx="1649.78" cy="33.56" r="1.05" fill="#a95fca"/>
<circle cx="1633.23" cy="36.64" r="1.51" fill="#c495de"/>
<circle cx="1643.87" cy="33.22" r="1.37" fill="#c495de"/>
<circle cx="1641.96" cy="29.42" r="1.58" fill="#e9daf6"/>
<ellipse cx="1644.4" cy="40.5" rx="2.6" ry="1.6" fill="#7c2c99" transform="rotate(25 1644.4 40.5)"/>
</g>
<g transform="translate(1616.3 63.2) rotate(-45.5) scale(0.26)" stroke-linecap="butt">
<line x1="0" y1="0" x2="27" y2="0" stroke="#777" stroke-width="3.88"/>
<rect x="25" y="-3.2" width="6" height="6.4" fill="#fff" stroke="#777" stroke-width="3.14"/>
<rect x="31" y="-6.8" width="49" height="13.6" fill="#fff" stroke="#777" stroke-width="3.76" rx="1"/>
<rect x="35" y="-4.9" width="17" height="9.8" fill="#9a2fc0"/>
<line x1="56" y1="-6.8" x2="56" y2="-2" stroke="#555" stroke-width="2.2"/>
<line x1="60.5" y1="-6.8" x2="60.5" y2="-2" stroke="#555" stroke-width="2.2"/>
<line x1="65" y1="-6.8" x2="65" y2="-2" stroke="#555" stroke-width="2.2"/>
<line x1="69.5" y1="-6.8" x2="69.5" y2="-2" stroke="#555" stroke-width="2.2"/>
<line x1="74" y1="-6.8" x2="74" y2="-2" stroke="#555" stroke-width="2.2"/>
<line x1="80.5" y1="-11.5" x2="80.5" y2="11.5" stroke="#444" stroke-width="6.27"/>
<line x1="81" y1="0" x2="97" y2="0" stroke="#444" stroke-width="5.02"/>
<line x1="97.5" y1="-9" x2="97.5" y2="9" stroke="#444" stroke-width="6.27"/>
</g>
<g transform="translate(1584.1 138.6) rotate(-43.6) scale(0.39)" stroke-linecap="butt">
<line x1="0" y1="0" x2="27" y2="0" stroke="#2a2a2a" stroke-width="2.54"/>
<rect x="25" y="-3.2" width="6" height="6.4" fill="#fff" stroke="#2a2a2a" stroke-width="2.05"/>
<rect x="31" y="-6.8" width="49" height="13.6" fill="#fff" stroke="#2a2a2a" stroke-width="2.46" rx="1"/>
<rect x="35" y="-4.9" width="17" height="9.8" fill="#4a4ac4"/>
<line x1="56" y1="-6.8" x2="56" y2="-2" stroke="#555" stroke-width="1.44"/>
<line x1="60.5" y1="-6.8" x2="60.5" y2="-2" stroke="#555" stroke-width="1.44"/>
<line x1="65" y1="-6.8" x2="65" y2="-2" stroke="#555" stroke-width="1.44"/>
<line x1="69.5" y1="-6.8" x2="69.5" y2="-2" stroke="#555" stroke-width="1.44"/>
<line x1="74" y1="-6.8" x2="74" y2="-2" stroke="#555" stroke-width="1.44"/>
<line x1="80.5" y1="-11.5" x2="80.5" y2="11.5" stroke="#222" stroke-width="4.1"/>
<line x1="81" y1="0" x2="97" y2="0" stroke="#222" stroke-width="3.28"/>
<line x1="97.5" y1="-9" x2="97.5" y2="9" stroke="#222" stroke-width="4.1"/>
</g>
<g transform="translate(1588.4 182.9) rotate(-43.6) scale(0.4)" stroke-linecap="butt">
<line x1="0" y1="0" x2="27" y2="0" stroke="#2a2a2a" stroke-width="2.51"/>
<rect x="25" y="-3.2" width="6" height="6.4" fill="#fff" stroke="#2a2a2a" stroke-width="2.03"/>
<rect x="31" y="-6.8" width="49" height="13.6" fill="#fff" stroke="#2a2a2a" stroke-width="2.43" rx="1"/>
<rect x="35" y="-4.9" width="17" height="9.8" fill="#b52a22"/>
<line x1="56" y1="-6.8" x2="56" y2="-2" stroke="#555" stroke-width="1.42"/>
<line x1="60.5" y1="-6.8" x2="60.5" y2="-2" stroke="#555" stroke-width="1.42"/>
<line x1="65" y1="-6.8" x2="65" y2="-2" stroke="#555" stroke-width="1.42"/>
<line x1="69.5" y1="-6.8" x2="69.5" y2="-2" stroke="#555" stroke-width="1.42"/>
<line x1="74" y1="-6.8" x2="74" y2="-2" stroke="#555" stroke-width="1.42"/>
<line x1="80.5" y1="-11.5" x2="80.5" y2="11.5" stroke="#222" stroke-width="4.05"/>
<line x1="81" y1="0" x2="97" y2="0" stroke="#222" stroke-width="3.24"/>
<line x1="97.5" y1="-9" x2="97.5" y2="9" stroke="#222" stroke-width="4.05"/>
</g>
<text x="1625" y="124.8" font-size="15" font-weight="bold" stroke="#5b34a8" stroke-width="0.4" fill="#5b34a8" textLength="43" lengthAdjust="spacingAndGlyphs">siRNA</text>
<text x="1624.3" y="161.9" font-size="15" font-weight="bold" stroke="#c0147f" stroke-width="0.4" fill="#c0147f" textLength="70.5" lengthAdjust="spacingAndGlyphs">REVERSIR</text>
<path d="M1590.03,288.96 C1590.03,288.2 1590.31,285.8 1591.17,283.85 C1592.02,281.89 1593.72,278.72 1595.14,277.22 C1596.56,275.72 1598.17,275.37 1599.68,274.84 C1601.2,274.3 1602.8,274.05 1604.22,274 C1605.64,273.96 1607.16,274.04 1608.2,274.57 C1609.24,275.11 1609.62,276.12 1610.47,277.22 C1611.32,278.33 1612.39,279.97 1613.31,281.2 C1614.22,282.43 1615.36,283.59 1615.96,284.6 C1616.56,285.61 1616.97,286.5 1616.9,287.25 C1616.84,288.01 1616.37,288.58 1615.58,289.14 C1614.79,289.71 1613.37,290.22 1612.17,290.66 C1610.97,291.1 1609.59,291.73 1608.39,291.79 C1607.19,291.86 1605.99,291.48 1604.98,291.04 C1603.97,290.6 1603.03,289.87 1602.33,289.14 C1601.64,288.42 1601.57,287.05 1600.82,286.68 C1600.06,286.32 1598.86,286.76 1597.79,286.95 C1596.72,287.14 1595.27,287.93 1594.38,287.82 C1593.5,287.71 1593.03,286.21 1592.49,286.31 C1591.95,286.4 1591.58,287.95 1591.17,288.39 C1590.76,288.83 1590.03,289.71 1590.03,288.96Z" fill="#a8695e"/>
<path d="M1606.5,274.57 C1606.44,275.17 1606.54,276.81 1606.19,278.17 C1605.85,279.52 1605.34,281.32 1604.41,282.71 C1603.49,284.1 1601.26,285.86 1600.63,286.5" fill="none" stroke="#96574d" stroke-width="0.8"/>
<path d="M1604.22,282.9 C1604.73,283.25 1606.12,284.85 1607.25,284.98 C1608.39,285.11 1610.41,283.88 1611.04,283.66" fill="none" stroke="#9c5d53" stroke-width="0.7"/>
</g>
<g id="panel-c">
<text x="-1.7" y="407.7" font-size="54" font-weight="bold" stroke="#000" stroke-width="0.4">c</text>
<path d="M110.2,561.9 H119.4 V958.6 H590.4 V967" fill="none" stroke="#000" stroke-width="3" stroke-linejoin="miter"/>
<line x1="110.2" y1="661.1" x2="119.4" y2="661.1" stroke="#000" stroke-width="3"/>
<line x1="110.2" y1="760.3" x2="119.4" y2="760.3" stroke="#000" stroke-width="3"/>
<line x1="110.2" y1="859.4" x2="119.4" y2="859.4" stroke="#000" stroke-width="3"/>
<line x1="110.2" y1="958.6" x2="119.4" y2="958.6" stroke="#000" stroke-width="3"/>
<line x1="119.4" y1="958.6" x2="119.4" y2="967" stroke="#000" stroke-width="3"/>
<line x1="213.6" y1="958.6" x2="213.6" y2="967" stroke="#000" stroke-width="3"/>
<line x1="307.8" y1="958.6" x2="307.8" y2="967" stroke="#000" stroke-width="3"/>
<line x1="402" y1="958.6" x2="402" y2="967" stroke="#000" stroke-width="3"/>
<line x1="496.2" y1="958.6" x2="496.2" y2="967" stroke="#000" stroke-width="3"/>
<text x="107.4" y="569.5" font-size="20" font-weight="bold" stroke="#000" stroke-width="0.4" text-anchor="end">200</text>
<text x="107.4" y="668.7" font-size="20" font-weight="bold" stroke="#000" stroke-width="0.4" text-anchor="end">150</text>
<text x="107.4" y="767.9" font-size="20" font-weight="bold" stroke="#000" stroke-width="0.4" text-anchor="end">100</text>
<text x="107.4" y="867" font-size="20" font-weight="bold" stroke="#000" stroke-width="0.4" text-anchor="end">50</text>
<text x="107.4" y="966" font-size="20" font-weight="bold" stroke="#000" stroke-width="0.4" text-anchor="end">0</text>
<text x="119.4" y="989.8" font-size="20" font-weight="bold" stroke="#000" stroke-width="0.4" text-anchor="middle">0</text>
<text x="213.6" y="989.8" font-size="20" font-weight="bold" stroke="#000" stroke-width="0.4" text-anchor="middle">10</text>
<text x="307.8" y="989.8" font-size="20" font-weight="bold" stroke="#000" stroke-width="0.4" text-anchor="middle">20</text>
<text x="402" y="989.8" font-size="20" font-weight="bold" stroke="#000" stroke-width="0.4" text-anchor="middle">30</text>
<text x="496.2" y="989.8" font-size="20" font-weight="bold" stroke="#000" stroke-width="0.4" text-anchor="middle">40</text>
<text x="590.4" y="989.8" font-size="20" font-weight="bold" stroke="#000" stroke-width="0.4" text-anchor="middle">50</text>
<text x="356.6" y="1020.6" font-size="22.3" font-weight="bold" stroke="#000" stroke-width="0.4" text-anchor="middle" textLength="38.8" lengthAdjust="spacingAndGlyphs">Day</text>
<polyline points="119.4,760.6 251.28,906 317.22,890.8 449.1,897.9 524.46,886.6" fill="none" stroke="#3b3aa6" stroke-width="3" stroke-linejoin="round" stroke-dasharray="9.5 5" stroke-linecap="butt"/>
<line x1="251.28" y1="897" x2="251.28" y2="915" stroke="#3b3aa6" stroke-width="1.4"/>
<line x1="247.38" y1="897" x2="255.18" y2="897" stroke="#3b3aa6" stroke-width="1.4"/>
<line x1="247.38" y1="915" x2="255.18" y2="915" stroke="#3b3aa6" stroke-width="1.4"/>
<line x1="317.22" y1="885" x2="317.22" y2="896.5" stroke="#3b3aa6" stroke-width="1.4"/>
<line x1="313.32" y1="885" x2="321.12" y2="885" stroke="#3b3aa6" stroke-width="1.4"/>
<line x1="313.32" y1="896.5" x2="321.12" y2="896.5" stroke="#3b3aa6" stroke-width="1.4"/>
<line x1="449.1" y1="892" x2="449.1" y2="903.5" stroke="#3b3aa6" stroke-width="1.4"/>
<line x1="445.2" y1="892" x2="453" y2="892" stroke="#3b3aa6" stroke-width="1.4"/>
<line x1="445.2" y1="903.5" x2="453" y2="903.5" stroke="#3b3aa6" stroke-width="1.4"/>
<line x1="524.46" y1="866.2" x2="524.46" y2="907" stroke="#3b3aa6" stroke-width="1.4"/>
<line x1="520.56" y1="866.2" x2="528.36" y2="866.2" stroke="#3b3aa6" stroke-width="1.4"/>
<line x1="520.56" y1="907" x2="528.36" y2="907" stroke="#3b3aa6" stroke-width="1.4"/>
<circle cx="251.28" cy="906" r="4" fill="#fff" stroke="#3b3aa6" stroke-width="1.6"/>
<circle cx="317.22" cy="890.8" r="4" fill="#fff" stroke="#3b3aa6" stroke-width="1.6"/>
<circle cx="449.1" cy="897.9" r="4" fill="#fff" stroke="#3b3aa6" stroke-width="1.6"/>
<circle cx="524.46" cy="886.6" r="4" fill="#fff" stroke="#3b3aa6" stroke-width="1.6"/>
<polyline points="119.4,760.6 251.28,903 317.22,683.4 449.1,733.8 524.46,735.2" fill="none" stroke="#3b3aa6" stroke-width="4.3" stroke-linejoin="round"/>
<line x1="317.22" y1="660" x2="317.22" y2="705" stroke="#3b3aa6" stroke-width="1.4"/>
<line x1="313.32" y1="660" x2="321.12" y2="660" stroke="#3b3aa6" stroke-width="1.4"/>
<line x1="313.32" y1="705" x2="321.12" y2="705" stroke="#3b3aa6" stroke-width="1.4"/>
<line x1="449.1" y1="694.1" x2="449.1" y2="773.5" stroke="#3b3aa6" stroke-width="1.4"/>
<line x1="445.2" y1="694.1" x2="453" y2="694.1" stroke="#3b3aa6" stroke-width="1.4"/>
<line x1="445.2" y1="773.5" x2="453" y2="773.5" stroke="#3b3aa6" stroke-width="1.4"/>
<line x1="524.46" y1="724.7" x2="524.46" y2="745.8" stroke="#3b3aa6" stroke-width="1.4"/>
<line x1="520.56" y1="724.7" x2="528.36" y2="724.7" stroke="#3b3aa6" stroke-width="1.4"/>
<line x1="520.56" y1="745.8" x2="528.36" y2="745.8" stroke="#3b3aa6" stroke-width="1.4"/>
<circle cx="317.22" cy="683.4" r="4" fill="#4448b8" stroke="#111" stroke-width="1.6"/>
<circle cx="449.1" cy="733.8" r="4" fill="#4448b8" stroke="#111" stroke-width="1.6"/>
<circle cx="524.46" cy="735.2" r="4" fill="#4448b8" stroke="#111" stroke-width="1.6"/>
<polyline points="119.4,760.6 251.28,908 317.22,900 449.1,900.2 524.46,896.8" fill="none" stroke="#3a99b3" stroke-width="3" stroke-linejoin="round" stroke-dasharray="9.5 5" stroke-linecap="butt"/>
<line x1="251.28" y1="898" x2="251.28" y2="914" stroke="#3a99b3" stroke-width="1.4"/>
<line x1="247.38" y1="898" x2="255.18" y2="898" stroke="#3a99b3" stroke-width="1.4"/>
<line x1="247.38" y1="914" x2="255.18" y2="914" stroke="#3a99b3" stroke-width="1.4"/>
<line x1="317.22" y1="896" x2="317.22" y2="904" stroke="#3a99b3" stroke-width="1.4"/>
<line x1="313.32" y1="896" x2="321.12" y2="896" stroke="#3a99b3" stroke-width="1.4"/>
<line x1="313.32" y1="904" x2="321.12" y2="904" stroke="#3a99b3" stroke-width="1.4"/>
<line x1="449.1" y1="896" x2="449.1" y2="904.5" stroke="#3a99b3" stroke-width="1.4"/>
<line x1="445.2" y1="896" x2="453" y2="896" stroke="#3a99b3" stroke-width="1.4"/>
<line x1="445.2" y1="904.5" x2="453" y2="904.5" stroke="#3a99b3" stroke-width="1.4"/>
<line x1="524.46" y1="892" x2="524.46" y2="901.5" stroke="#3a99b3" stroke-width="1.4"/>
<line x1="520.56" y1="892" x2="528.36" y2="892" stroke="#3a99b3" stroke-width="1.4"/>
<line x1="520.56" y1="901.5" x2="528.36" y2="901.5" stroke="#3a99b3" stroke-width="1.4"/>
<circle cx="251.28" cy="908" r="4" fill="#fff" stroke="#3a99b3" stroke-width="1.6"/>
<circle cx="317.22" cy="900" r="4" fill="#fff" stroke="#3a99b3" stroke-width="1.6"/>
<circle cx="449.1" cy="900.2" r="4" fill="#fff" stroke="#3a99b3" stroke-width="1.6"/>
<circle cx="524.46" cy="896.8" r="4" fill="#fff" stroke="#3a99b3" stroke-width="1.6"/>
<polyline points="119.4,760.6 251.28,905 317.22,746.8 449.1,777.6 524.46,785.6" fill="none" stroke="#4dbcd6" stroke-width="4.3" stroke-linejoin="round"/>
<line x1="317.22" y1="720" x2="317.22" y2="773" stroke="#3a99b3" stroke-width="1.4"/>
<line x1="313.32" y1="720" x2="321.12" y2="720" stroke="#3a99b3" stroke-width="1.4"/>
<line x1="313.32" y1="773" x2="321.12" y2="773" stroke="#3a99b3" stroke-width="1.4"/>
<line x1="449.1" y1="751.5" x2="449.1" y2="802.6" stroke="#3a99b3" stroke-width="1.4"/>
<line x1="445.2" y1="751.5" x2="453" y2="751.5" stroke="#3a99b3" stroke-width="1.4"/>
<line x1="445.2" y1="802.6" x2="453" y2="802.6" stroke="#3a99b3" stroke-width="1.4"/>
<line x1="524.46" y1="753.1" x2="524.46" y2="817.3" stroke="#3a99b3" stroke-width="1.4"/>
<line x1="520.56" y1="753.1" x2="528.36" y2="753.1" stroke="#3a99b3" stroke-width="1.4"/>
<line x1="520.56" y1="817.3" x2="528.36" y2="817.3" stroke="#3a99b3" stroke-width="1.4"/>
<circle cx="317.22" cy="746.8" r="4" fill="#3b9cb4" stroke="#111" stroke-width="1.6"/>
<circle cx="449.1" cy="777.6" r="4" fill="#3b9cb4" stroke="#111" stroke-width="1.6"/>
<circle cx="524.46" cy="785.6" r="4" fill="#3b9cb4" stroke="#111" stroke-width="1.6"/>
<polyline points="119.4,760.6 251.28,901.8 317.22,883.5 449.1,874.6 524.46,871.4" fill="none" stroke="#5a5858" stroke-width="2.5" stroke-linejoin="round"/>
<line x1="251.28" y1="889" x2="251.28" y2="914.5" stroke="#111" stroke-width="1.4"/>
<line x1="247.38" y1="889" x2="255.18" y2="889" stroke="#111" stroke-width="1.4"/>
<line x1="247.38" y1="914.5" x2="255.18" y2="914.5" stroke="#111" stroke-width="1.4"/>
<line x1="317.22" y1="869" x2="317.22" y2="898" stroke="#111" stroke-width="1.4"/>
<line x1="313.32" y1="869" x2="321.12" y2="869" stroke="#111" stroke-width="1.4"/>
<line x1="313.32" y1="898" x2="321.12" y2="898" stroke="#111" stroke-width="1.4"/>
<line x1="449.1" y1="856.4" x2="449.1" y2="892" stroke="#111" stroke-width="1.4"/>
<line x1="445.2" y1="856.4" x2="453" y2="856.4" stroke="#111" stroke-width="1.4"/>
<line x1="445.2" y1="892" x2="453" y2="892" stroke="#111" stroke-width="1.4"/>
<line x1="524.46" y1="850.3" x2="524.46" y2="892.3" stroke="#111" stroke-width="1.4"/>
<line x1="520.56" y1="850.3" x2="528.36" y2="850.3" stroke="#111" stroke-width="1.4"/>
<line x1="520.56" y1="892.3" x2="528.36" y2="892.3" stroke="#111" stroke-width="1.4"/>
<circle cx="251.28" cy="901.8" r="4" fill="#fff" stroke="#111" stroke-width="1.6"/>
<circle cx="317.22" cy="883.5" r="4" fill="#fff" stroke="#111" stroke-width="1.6"/>
<circle cx="449.1" cy="874.6" r="4" fill="#fff" stroke="#111" stroke-width="1.6"/>
<circle cx="524.46" cy="871.4" r="4" fill="#fff" stroke="#111" stroke-width="1.6"/>
<polyline points="119.4,760.6 251.28,737.9 317.22,615.9 449.1,770.1 524.46,766.3" fill="none" stroke="#a2a2a2" stroke-width="3" stroke-linejoin="round" stroke-dasharray="0.1 7.6" stroke-linecap="round"/>
<line x1="251.28" y1="723.6" x2="251.28" y2="752" stroke="#666" stroke-width="1.4"/>
<line x1="247.38" y1="723.6" x2="255.18" y2="723.6" stroke="#666" stroke-width="1.4"/>
<line x1="247.38" y1="752" x2="255.18" y2="752" stroke="#666" stroke-width="1.4"/>
<line x1="317.22" y1="571" x2="317.22" y2="660" stroke="#666" stroke-width="1.4"/>
<line x1="313.32" y1="571" x2="321.12" y2="571" stroke="#666" stroke-width="1.4"/>
<line x1="313.32" y1="660" x2="321.12" y2="660" stroke="#666" stroke-width="1.4"/>
<line x1="449.1" y1="748.1" x2="449.1" y2="791.9" stroke="#666" stroke-width="1.4"/>
<line x1="445.2" y1="748.1" x2="453" y2="748.1" stroke="#666" stroke-width="1.4"/>
<line x1="445.2" y1="791.9" x2="453" y2="791.9" stroke="#666" stroke-width="1.4"/>
<line x1="524.46" y1="735.7" x2="524.46" y2="796.9" stroke="#666" stroke-width="1.4"/>
<line x1="520.56" y1="735.7" x2="528.36" y2="735.7" stroke="#666" stroke-width="1.4"/>
<line x1="520.56" y1="796.9" x2="528.36" y2="796.9" stroke="#666" stroke-width="1.4"/>
<circle cx="119.4" cy="760.6" r="4" fill="#fff" stroke="#666" stroke-width="1.6"/>
<circle cx="251.28" cy="737.9" r="4" fill="#fff" stroke="#666" stroke-width="1.6"/>
<circle cx="317.22" cy="615.9" r="4" fill="#fff" stroke="#666" stroke-width="1.6"/>
<circle cx="449.1" cy="770.1" r="4" fill="#fff" stroke="#666" stroke-width="1.6"/>
<circle cx="524.46" cy="766.3" r="4" fill="#fff" stroke="#666" stroke-width="1.6"/>
<text x="26.2" y="758.9" font-size="22.6" font-weight="bold" stroke="#000" stroke-width="0.4" text-anchor="middle" textLength="183" lengthAdjust="spacingAndGlyphs" transform="rotate(-90 26.2 758.9)">Serum GLuc level</text>
<text x="52.4" y="756.5" font-size="22.6" font-weight="bold" stroke="#000" stroke-width="0.4" text-anchor="middle" textLength="239.3" lengthAdjust="spacingAndGlyphs" transform="rotate(-90 52.4 756.5)">(% relative to pre-dose)</text>
<text x="253.1" y="942.73" font-size="24.3" font-weight="bold" stroke="#000" stroke-width="0.4" text-anchor="middle">***</text>
<path d="M537.2,732.4 H547.3 V786.2 H537.2" fill="none" stroke="#000" stroke-width="2.7" stroke-linejoin="round"/>
<path d="M537.2,791.9 H547.3 V898.4 H537.2" fill="none" stroke="#000" stroke-width="2.7" stroke-linejoin="round"/>
<path d="M577.7,730.8 H588 V893 H577.7" fill="none" stroke="#000" stroke-width="2.7" stroke-linejoin="round"/>
<text x="553.1" y="757.9" font-size="14" font-weight="bold" stroke="#000" stroke-width="0.4" textLength="19.1" lengthAdjust="spacingAndGlyphs">n.s</text>
<text x="553" y="774.2" font-size="9" font-weight="bold" stroke="#000" stroke-width="0.4">.</text>
<text x="557.8" y="847" font-size="22" font-weight="bold" stroke="#000" stroke-width="0.4" text-anchor="middle">*</text>
<text x="603.5" y="817.9" font-size="22" font-weight="bold" stroke="#000" stroke-width="0.4" text-anchor="middle">**</text>
<g>
<line x1="132.5" y1="971.1" x2="132.5" y2="989.5" stroke="#2f5f82" stroke-width="0.9"/>
<rect x="130.4" y="989.4" width="4.6" height="4.8" fill="#fff" stroke="#2f5f82" stroke-width="1"/>
<rect x="128.1" y="994.2" width="9.8" height="30.2" fill="#fff" stroke="#2f5f82" stroke-width="1.1" rx="1.2"/>
<rect x="130.1" y="996.2" width="5.8" height="10.6" fill="#4c9bd5"/>
<line x1="129.1" y1="1010.3" x2="133.1" y2="1010.3" stroke="#2f5f82" stroke-width="0.8"/>
<line x1="129.1" y1="1013.7" x2="133.1" y2="1013.7" stroke="#2f5f82" stroke-width="0.8"/>
<line x1="129.1" y1="1017.1" x2="133.1" y2="1017.1" stroke="#2f5f82" stroke-width="0.8"/>
<line x1="129.1" y1="1020.5" x2="133.1" y2="1020.5" stroke="#2f5f82" stroke-width="0.8"/>
<line x1="126.7" y1="1024.9" x2="139.9" y2="1024.9" stroke="#2f5f82" stroke-width="1.9"/>
<line x1="133.3" y1="1025" x2="133.3" y2="1032.4" stroke="#2f5f82" stroke-width="1.6"/>
<line x1="128.5" y1="1032.6" x2="138.1" y2="1032.6" stroke="#2f5f82" stroke-width="1.9"/>
</g>
<g>
<line x1="253.6" y1="971.1" x2="253.6" y2="989.5" stroke="#2f5f82" stroke-width="0.9"/>
<rect x="251.5" y="989.4" width="4.6" height="4.8" fill="#fff" stroke="#2f5f82" stroke-width="1"/>
<rect x="249.2" y="994.2" width="9.8" height="30.2" fill="#fff" stroke="#2f5f82" stroke-width="1.1" rx="1.2"/>
<rect x="251.2" y="996.2" width="5.8" height="10.6" fill="#4c9bd5"/>
<line x1="250.2" y1="1010.3" x2="254.2" y2="1010.3" stroke="#2f5f82" stroke-width="0.8"/>
<line x1="250.2" y1="1013.7" x2="254.2" y2="1013.7" stroke="#2f5f82" stroke-width="0.8"/>
<line x1="250.2" y1="1017.1" x2="254.2" y2="1017.1" stroke="#2f5f82" stroke-width="0.8"/>
<line x1="250.2" y1="1020.5" x2="254.2" y2="1020.5" stroke="#2f5f82" stroke-width="0.8"/>
<line x1="247.8" y1="1024.9" x2="261" y2="1024.9" stroke="#2f5f82" stroke-width="1.9"/>
<line x1="254.4" y1="1025" x2="254.4" y2="1032.4" stroke="#2f5f82" stroke-width="1.6"/>
<line x1="249.6" y1="1032.6" x2="259.2" y2="1032.6" stroke="#2f5f82" stroke-width="1.9"/>
</g>
<text x="134.3" y="1055.3" font-size="17" font-weight="bold" stroke="#000" stroke-width="0.4" text-anchor="middle" textLength="52.2" lengthAdjust="spacingAndGlyphs">siRNA</text>
<text x="252.9" y="1055.3" font-size="17" font-weight="bold" stroke="#000" stroke-width="0.4" text-anchor="middle" textLength="90.2" lengthAdjust="spacingAndGlyphs">REVERSIR</text>
<line x1="145.6" y1="407.5" x2="175.2" y2="407.5" stroke="#a2a2a2" stroke-width="3" stroke-dasharray="0.1 8.3" stroke-linecap="round"/>
<circle cx="159.9" cy="407.5" r="4.2" fill="#fff" stroke="#666" stroke-width="1.5"/>
<line x1="144.6" y1="436" x2="175.2" y2="436" stroke="#5a5858" stroke-width="2.5"/>
<circle cx="159.9" cy="436" r="4.2" fill="#fff" stroke="#111" stroke-width="1.6"/>
<line x1="144.6" y1="464.6" x2="175.2" y2="464.6" stroke="#4dbcd6" stroke-width="4.3"/>
<circle cx="159.9" cy="464.6" r="4.2" fill="#3b9cb4" stroke="#111" stroke-width="1.5"/>
<path d="M144.6,493.1 h7 M171.7,493.1 h3" stroke="#3a99b3" stroke-width="3"/>
<circle cx="159.9" cy="493.1" r="4.2" fill="#fff" stroke="#3a99b3" stroke-width="1.6"/>
<line x1="144.6" y1="520.3" x2="175.2" y2="520.3" stroke="#3b3aa6" stroke-width="4.3"/>
<circle cx="159.9" cy="520.3" r="4.2" fill="#4448b8" stroke="#111" stroke-width="1.5"/>
<path d="M144.6,547.6 h7 M171.7,547.6 h3" stroke="#3b3aa6" stroke-width="3"/>
<circle cx="159.9" cy="547.6" r="4.2" fill="#fff" stroke="#3b3aa6" stroke-width="1.6"/>
<text x="192.5" y="414.5" font-size="20.8" font-weight="bold" stroke="#000" stroke-width="0.4" textLength="39.8" lengthAdjust="spacingAndGlyphs">PBS</text>
<text x="192.5" y="442.7" font-size="20.8" font-weight="bold" stroke="#000" stroke-width="0.4" textLength="194.7" lengthAdjust="spacingAndGlyphs">TTR siRNA + Vehicle</text>
<text x="192.5" y="471.2" font-size="20.8" font-weight="bold" stroke="#000" stroke-width="0.4" textLength="343.4" lengthAdjust="spacingAndGlyphs">TTR siRNA + 22-mer TTR REVERSIR</text>
<text x="192.5" y="499.7" font-size="20.8" font-weight="bold" stroke="#000" stroke-width="0.4" textLength="331" lengthAdjust="spacingAndGlyphs">TTR siRNA + 22-mer NT REVERSIR</text>
<text x="192.5" y="526.9" font-size="20.8" font-weight="bold" stroke="#000" stroke-width="0.4" textLength="332.1" lengthAdjust="spacingAndGlyphs">TTR siRNA + 9-mer TTR REVERSIR</text>
<text x="192.5" y="554.2" font-size="20.8" font-weight="bold" stroke="#000" stroke-width="0.4" textLength="320.3" lengthAdjust="spacingAndGlyphs">TTR siRNA + 9-mer NT REVERSIR</text>
</g>
<g id="panel-d">
<text x="631.5" y="410" font-size="54" font-weight="bold" stroke="#000" stroke-width="0.4">d</text>
<rect x="755.35" y="482.55" width="29.9" height="9.7" fill="#15485c" stroke="#0c0c0c" stroke-width="1.5"/>
<rect x="755.7" y="510.7" width="30" height="9.8" fill="url(#hatchl)" stroke="#14465c" stroke-width="1.4"/>
<text x="803.7" y="494.5" font-size="20.8" font-weight="bold" stroke="#000" stroke-width="0.4" textLength="209.5" lengthAdjust="spacingAndGlyphs">9-mer TTR REVERSIR</text>
<text x="803.7" y="522.8" font-size="20.8" font-weight="bold" stroke="#000" stroke-width="0.4" textLength="197.5" lengthAdjust="spacingAndGlyphs">9-mer NT REVERSIR</text>
<path d="M795.5,557.2 V552.4 H983.5 V557.2" fill="none" stroke="#000" stroke-width="3" stroke-linejoin="round"/>
<path d="M795.5,581.3 V576.3 H931 V581.3" fill="none" stroke="#000" stroke-width="3" stroke-linejoin="round"/>
<path d="M795.5,605.3 V600.4 H849.7 V605.3" fill="none" stroke="#000" stroke-width="3" stroke-linejoin="round"/>
<text x="889.9" y="554.7" font-size="25" font-weight="bold" stroke="#000" stroke-width="0.4" text-anchor="middle">*</text>
<text x="862.6" y="571.2" font-size="12.5" font-weight="bold" stroke="#000" stroke-width="0.4" text-anchor="middle" textLength="23.5" lengthAdjust="spacingAndGlyphs">n.s.</text>
<text x="821.4" y="603.1" font-size="25" font-weight="bold" stroke="#000" stroke-width="0.4" text-anchor="middle">**</text>
<rect x="774.2" y="695.8" width="42.5" height="200" fill="#fff" stroke="#000" stroke-width="1.6"/>
<rect x="828.2" y="810.3" width="42.5" height="85.5" fill="#3f3ba3" stroke="#000" stroke-width="1.6"/>
<rect x="908.5" y="711.7" width="42.5" height="184.1" fill="#15485c" stroke="#0b0b0b" stroke-width="1.6"/>
<rect x="961.5" y="784.4" width="43.4" height="111.4" fill="url(#hatch)" stroke="#14465c" stroke-width="1.6"/>
<line x1="795.4" y1="669.8" x2="795.4" y2="719" stroke="#000" stroke-width="3"/>
<line x1="784.6" y1="669.8" x2="806.2" y2="669.8" stroke="#000" stroke-width="3"/>
<line x1="784.6" y1="719" x2="806.2" y2="719" stroke="#000" stroke-width="3"/>
<line x1="849.4" y1="789.4" x2="849.4" y2="829.1" stroke="#000" stroke-width="3"/>
<line x1="838.6" y1="789.4" x2="860.2" y2="789.4" stroke="#000" stroke-width="3"/>
<line x1="838.6" y1="829.1" x2="860.2" y2="829.1" stroke="#000" stroke-width="3"/>
<line x1="929.6" y1="685.3" x2="929.6" y2="735.8" stroke="#000" stroke-width="3"/>
<line x1="918.8" y1="685.3" x2="940.4" y2="685.3" stroke="#000" stroke-width="3"/>
<line x1="918.8" y1="735.8" x2="940.4" y2="735.8" stroke="#000" stroke-width="3"/>
<line x1="983.1" y1="773.5" x2="983.1" y2="794.6" stroke="#000" stroke-width="3"/>
<line x1="972.3" y1="773.5" x2="993.9" y2="773.5" stroke="#000" stroke-width="3"/>
<line x1="972.3" y1="794.6" x2="993.9" y2="794.6" stroke="#000" stroke-width="3"/>
<circle cx="795.4" cy="617.7" r="4.2" fill="#fff" stroke="#000" stroke-width="1.5"/>
<circle cx="795.4" cy="657.5" r="4.2" fill="#fff" stroke="#000" stroke-width="1.5"/>
<circle cx="795.4" cy="712.3" r="4.2" fill="#fff" stroke="#000" stroke-width="1.5"/>
<circle cx="795.4" cy="733" r="4.2" fill="#fff" stroke="#000" stroke-width="1.5"/>
<circle cx="795.4" cy="751.3" r="4.2" fill="#fff" stroke="#000" stroke-width="1.5"/>
<circle cx="849.3" cy="766.8" r="4.2" fill="#fff" stroke="#3f3ba3" stroke-width="1.5"/>
<circle cx="849.3" cy="798.1" r="4.2" fill="#fff" stroke="#3f3ba3" stroke-width="1.5"/>
<circle cx="849.3" cy="810.9" r="4.2" fill="#fff" stroke="#3f3ba3" stroke-width="1.5"/>
<circle cx="849.3" cy="862.5" r="4.2" fill="#fff" stroke="#3f3ba3" stroke-width="1.5"/>
<circle cx="929.4" cy="660.3" r="4.2" fill="#fff" stroke="#000" stroke-width="1.5"/>
<circle cx="929.4" cy="731.8" r="4.2" fill="#fff" stroke="#1a4a5e" stroke-width="1.5"/>
<circle cx="929.4" cy="740.1" r="4.2" fill="#fff" stroke="#1a4a5e" stroke-width="1.5"/>
<circle cx="974.2" cy="771.9" r="4.2" fill="#fff" stroke="#000" stroke-width="1.5"/>
<circle cx="991.7" cy="775.1" r="4.2" fill="#fff" stroke="#000" stroke-width="1.5"/>
<circle cx="983" cy="804.9" r="4.2" fill="#fff" stroke="#000" stroke-width="1.5"/>
<path d="M742,602.3 H750.9 V895.8 H1029.5" fill="none" stroke="#000" stroke-width="3"/>
<line x1="742" y1="895.8" x2="752" y2="895.8" stroke="#000" stroke-width="3"/>
<line x1="742" y1="700.1" x2="750.9" y2="700.1" stroke="#000" stroke-width="3"/>
<line x1="742" y1="798" x2="750.9" y2="798" stroke="#000" stroke-width="3"/>
<line x1="795.4" y1="895.8" x2="795.4" y2="904.3" stroke="#000" stroke-width="3"/>
<line x1="849.4" y1="895.8" x2="849.4" y2="904.3" stroke="#000" stroke-width="3"/>
<line x1="929.6" y1="895.8" x2="929.6" y2="904.3" stroke="#000" stroke-width="3"/>
<line x1="983.1" y1="895.8" x2="983.1" y2="904.3" stroke="#000" stroke-width="3"/>
<text x="739.3" y="609.5" font-size="20" font-weight="bold" stroke="#000" stroke-width="0.4" text-anchor="end">150</text>
<text x="739.3" y="707.3" font-size="20" font-weight="bold" stroke="#000" stroke-width="0.4" text-anchor="end">100</text>
<text x="739.3" y="805.2" font-size="20" font-weight="bold" stroke="#000" stroke-width="0.4" text-anchor="end">50</text>
<text x="739.3" y="903" font-size="20" font-weight="bold" stroke="#000" stroke-width="0.4" text-anchor="end">0</text>
<text x="804.6" y="918.4" font-size="20.5" font-weight="bold" stroke="#000" stroke-width="0.4" text-anchor="end" transform="rotate(-45 804.6 918.4)">PBS</text>
<text x="861" y="915.2" font-size="20.5" font-weight="bold" stroke="#000" stroke-width="0.4" text-anchor="end" transform="rotate(-45 861 915.2)">TTR-siRNA</text>
<line x1="911" y1="920.5" x2="1009.6" y2="920.5" stroke="#000" stroke-width="2.3"/>
<text x="962.7" y="945.6" font-size="20.8" font-weight="bold" stroke="#000" stroke-width="0.4" text-anchor="middle" textLength="122" lengthAdjust="spacingAndGlyphs">TTR siRNA +</text>
<text x="963.8" y="970.2" font-size="20.8" font-weight="bold" stroke="#000" stroke-width="0.4" text-anchor="middle" textLength="103" lengthAdjust="spacingAndGlyphs">REVERSIR</text>
<text x="690.5" y="753" font-size="22.9" font-weight="bold" stroke="#000" stroke-width="0.4" text-anchor="middle" textLength="259" lengthAdjust="spacingAndGlyphs" transform="rotate(-90 690.5 753)">% <tspan font-style="italic">Gluc</tspan> mRNA remaining</text>
</g>
<g id="panel-e">
<text x="1060.5" y="410" font-size="54" font-weight="bold" stroke="#000" stroke-width="0.4">e</text>
<rect x="1202.6" y="674.9" width="31.3" height="219.9" fill="#fff" stroke="#000" stroke-width="1.6"/>
<rect x="1242.2" y="827.3" width="31.2" height="67.5" fill="#3f3ba3" stroke="#000" stroke-width="1.6"/>
<rect x="1282.1" y="779" width="30.9" height="115.8" fill="#d5eef8" stroke="#000" stroke-width="1.6"/>
<rect x="1321.6" y="752.4" width="30.8" height="142.4" fill="#6ec9e3" stroke="#000" stroke-width="1.6"/>
<rect x="1361.6" y="708.6" width="30.8" height="186.2" fill="#70a1d6" stroke="#000" stroke-width="1.6"/>
<rect x="1401.1" y="709.5" width="31.3" height="185.3" fill="#15485c" stroke="#0b0b0b" stroke-width="1.6"/>
<rect x="1440.3" y="824.8" width="31.9" height="70" fill="url(#hatchs)" stroke="#111" stroke-width="1.6"/>
<line x1="1218.2" y1="622.3" x2="1218.2" y2="724.7" stroke="#000" stroke-width="2.5"/>
<line x1="1209.9" y1="622.3" x2="1226.5" y2="622.3" stroke="#000" stroke-width="2.5"/>
<line x1="1209.9" y1="724.7" x2="1226.5" y2="724.7" stroke="#000" stroke-width="2.5"/>
<line x1="1257.6" y1="819.6" x2="1257.6" y2="832.9" stroke="#000" stroke-width="2.5"/>
<line x1="1249.3" y1="819.6" x2="1265.9" y2="819.6" stroke="#000" stroke-width="2.5"/>
<line x1="1249.3" y1="832.9" x2="1265.9" y2="832.9" stroke="#000" stroke-width="2.5"/>
<line x1="1297.4" y1="771.3" x2="1297.4" y2="783" stroke="#000" stroke-width="2.5"/>
<line x1="1289.1" y1="771.3" x2="1305.7" y2="771.3" stroke="#000" stroke-width="2.5"/>
<line x1="1289.1" y1="783" x2="1305.7" y2="783" stroke="#000" stroke-width="2.5"/>
<line x1="1337" y1="736.8" x2="1337" y2="765.5" stroke="#000" stroke-width="2.5"/>
<line x1="1328.7" y1="736.8" x2="1345.3" y2="736.8" stroke="#000" stroke-width="2.5"/>
<line x1="1328.7" y1="765.5" x2="1345.3" y2="765.5" stroke="#000" stroke-width="2.5"/>
<line x1="1377" y1="688" x2="1377" y2="726.8" stroke="#000" stroke-width="2.5"/>
<line x1="1368.7" y1="688" x2="1385.3" y2="688" stroke="#000" stroke-width="2.5"/>
<line x1="1368.7" y1="726.8" x2="1385.3" y2="726.8" stroke="#000" stroke-width="2.5"/>
<line x1="1416.7" y1="696.8" x2="1416.7" y2="719.7" stroke="#000" stroke-width="2.5"/>
<line x1="1408.4" y1="696.8" x2="1425" y2="696.8" stroke="#000" stroke-width="2.5"/>
<line x1="1408.4" y1="719.7" x2="1425" y2="719.7" stroke="#000" stroke-width="2.5"/>
<line x1="1456.4" y1="815.4" x2="1456.4" y2="832" stroke="#000" stroke-width="2.5"/>
<line x1="1448.1" y1="815.4" x2="1464.7" y2="815.4" stroke="#000" stroke-width="2.5"/>
<line x1="1448.1" y1="832" x2="1464.7" y2="832" stroke="#000" stroke-width="2.5"/>
<circle cx="1217.8" cy="531.6" r="3.95" fill="#fff" stroke="#000" stroke-width="1.45"/>
<circle cx="1217.8" cy="667.3" r="3.95" fill="#fff" stroke="#000" stroke-width="1.45"/>
<circle cx="1217.8" cy="733.4" r="3.95" fill="#fff" stroke="#000" stroke-width="1.45"/>
<circle cx="1217.8" cy="763" r="3.95" fill="#fff" stroke="#000" stroke-width="1.45"/>
<circle cx="1257.4" cy="810.4" r="3.95" fill="#fff" stroke="#3f3ba3" stroke-width="1.45"/>
<circle cx="1257.4" cy="822.5" r="3.95" fill="#fff" stroke="#3f3ba3" stroke-width="1.45"/>
<circle cx="1249.9" cy="838.7" r="3.95" fill="#fff" stroke="#3f3ba3" stroke-width="1.45"/>
<circle cx="1265.3" cy="834.2" r="3.95" fill="#fff" stroke="#3f3ba3" stroke-width="1.45"/>
<circle cx="1297.3" cy="763.4" r="3.95" fill="#fff" stroke="#9fdcf0" stroke-width="1.45"/>
<circle cx="1297.3" cy="772.6" r="3.95" fill="#fff" stroke="#9fdcf0" stroke-width="1.45"/>
<circle cx="1289.4" cy="788.4" r="3.95" fill="#fff" stroke="#9fdcf0" stroke-width="1.45"/>
<circle cx="1305.2" cy="786.7" r="3.95" fill="#fff" stroke="#9fdcf0" stroke-width="1.45"/>
<circle cx="1329" cy="719.3" r="3.95" fill="#fff" stroke="#5cc3e0" stroke-width="1.45"/>
<circle cx="1344.8" cy="714.3" r="3.95" fill="#fff" stroke="#5cc3e0" stroke-width="1.45"/>
<circle cx="1329" cy="768" r="3.95" fill="#fff" stroke="#5cc3e0" stroke-width="1.45"/>
<circle cx="1344.8" cy="775.5" r="3.95" fill="#fff" stroke="#5cc3e0" stroke-width="1.45"/>
<circle cx="1329" cy="778.8" r="3.95" fill="#fff" stroke="#5cc3e0" stroke-width="1.45"/>
<circle cx="1376.8" cy="655.6" r="3.95" fill="#fff" stroke="#5b8fd0" stroke-width="1.45"/>
<circle cx="1376.8" cy="703.5" r="3.95" fill="#fff" stroke="#5b8fd0" stroke-width="1.45"/>
<circle cx="1376.8" cy="728.4" r="3.95" fill="#fff" stroke="#5b8fd0" stroke-width="1.45"/>
<circle cx="1376.8" cy="743" r="3.95" fill="#fff" stroke="#5b8fd0" stroke-width="1.45"/>
<circle cx="1416.8" cy="689.3" r="3.95" fill="#fff" stroke="#000" stroke-width="1.45"/>
<circle cx="1416.8" cy="706.8" r="3.95" fill="#fff" stroke="#000" stroke-width="1.45"/>
<circle cx="1416.8" cy="728.9" r="3.95" fill="#fff" stroke="#1a4a5e" stroke-width="1.45"/>
<circle cx="1456.3" cy="799.6" r="3.95" fill="#fff" stroke="#000" stroke-width="1.45"/>
<circle cx="1448.4" cy="826.2" r="3.95" fill="#fff" stroke="#000" stroke-width="1.45"/>
<circle cx="1464.2" cy="832" r="3.95" fill="#fff" stroke="#000" stroke-width="1.45"/>
<circle cx="1448.4" cy="838.7" r="3.95" fill="#fff" stroke="#000" stroke-width="1.45"/>
<text x="1257.1" y="808.17" font-size="25.5" font-weight="bold" stroke="#000" stroke-width="0.4" text-anchor="middle">***</text>
<text x="1297.4" y="761.17" font-size="25.5" font-weight="bold" stroke="#000" stroke-width="0.4" text-anchor="middle">*</text>
<text x="1457" y="800.17" font-size="25.5" font-weight="bold" stroke="#000" stroke-width="0.4" text-anchor="middle">***</text>
<path d="M1187,497.5 H1195.2 V894.8 H1480.9" fill="none" stroke="#000" stroke-width="3"/>
<line x1="1187" y1="894.8" x2="1196" y2="894.8" stroke="#000" stroke-width="3"/>
<line x1="1187" y1="596.8" x2="1195.2" y2="596.8" stroke="#000" stroke-width="3"/>
<line x1="1187" y1="696.2" x2="1195.2" y2="696.2" stroke="#000" stroke-width="3"/>
<line x1="1187" y1="795.5" x2="1195.2" y2="795.5" stroke="#000" stroke-width="3"/>
<line x1="1218.2" y1="894.8" x2="1218.2" y2="903.2" stroke="#000" stroke-width="3"/>
<line x1="1257.6" y1="894.8" x2="1257.6" y2="903.2" stroke="#000" stroke-width="3"/>
<line x1="1297.4" y1="894.8" x2="1297.4" y2="903.2" stroke="#000" stroke-width="3"/>
<line x1="1337" y1="894.8" x2="1337" y2="903.2" stroke="#000" stroke-width="3"/>
<line x1="1377" y1="894.8" x2="1377" y2="903.2" stroke="#000" stroke-width="3"/>
<line x1="1416.7" y1="894.8" x2="1416.7" y2="903.2" stroke="#000" stroke-width="3"/>
<line x1="1456.4" y1="894.8" x2="1456.4" y2="903.2" stroke="#000" stroke-width="3"/>
<text x="1184.5" y="504.4" font-size="20" font-weight="bold" stroke="#000" stroke-width="0.4" text-anchor="end">200</text>
<text x="1184.5" y="603.7" font-size="20" font-weight="bold" stroke="#000" stroke-width="0.4" text-anchor="end">150</text>
<text x="1184.5" y="703.1" font-size="20" font-weight="bold" stroke="#000" stroke-width="0.4" text-anchor="end">100</text>
<text x="1184.5" y="802.4" font-size="20" font-weight="bold" stroke="#000" stroke-width="0.4" text-anchor="end">50</text>
<text x="1184.5" y="901.7" font-size="20" font-weight="bold" stroke="#000" stroke-width="0.4" text-anchor="end">0</text>
<text x="1105.5" y="693.75" font-size="23.1" font-weight="bold" stroke="#000" stroke-width="0.4" text-anchor="middle" textLength="187.5" lengthAdjust="spacingAndGlyphs" transform="rotate(-90 1105.5 693.75)">Serum GLuc level</text>
<text x="1133" y="692.2" font-size="23.1" font-weight="bold" stroke="#000" stroke-width="0.4" text-anchor="middle" textLength="244" lengthAdjust="spacingAndGlyphs" transform="rotate(-90 1133 692.2)">(% relative to pre-dose)</text>
<text x="1218.9" y="929.5" font-size="20" font-weight="bold" stroke="#000" stroke-width="0.4" text-anchor="middle">-</text>
<text x="1218.6" y="957.3" font-size="20" font-weight="bold" stroke="#000" stroke-width="0.4" text-anchor="middle">-</text>
<text x="1218.7" y="984.5" font-size="20" font-weight="bold" stroke="#000" stroke-width="0.4" text-anchor="middle">-</text>
<text x="1258.3" y="928.3" font-size="20" font-weight="bold" stroke="#000" stroke-width="0.4" text-anchor="middle">+</text>
<text x="1258" y="957.3" font-size="20" font-weight="bold" stroke="#000" stroke-width="0.4" text-anchor="middle">-</text>
<text x="1258.1" y="986.7" font-size="20" font-weight="bold" stroke="#000" stroke-width="0.4" text-anchor="middle">-</text>
<text x="1298.1" y="928.3" font-size="20" font-weight="bold" stroke="#000" stroke-width="0.4" text-anchor="middle">+</text>
<text x="1297.8" y="957.3" font-size="20" font-weight="bold" stroke="#000" stroke-width="0.4" text-anchor="middle">0.3</text>
<text x="1297.9" y="989.3" font-size="20" font-weight="bold" stroke="#000" stroke-width="0.4" text-anchor="middle">-</text>
<text x="1337.7" y="928.3" font-size="20" font-weight="bold" stroke="#000" stroke-width="0.4" text-anchor="middle">+</text>
<text x="1337.4" y="957.3" font-size="20" font-weight="bold" stroke="#000" stroke-width="0.4" text-anchor="middle">0.5</text>
<text x="1337.5" y="989.3" font-size="20" font-weight="bold" stroke="#000" stroke-width="0.4" text-anchor="middle">-</text>
<text x="1377.7" y="928.3" font-size="20" font-weight="bold" stroke="#000" stroke-width="0.4" text-anchor="middle">+</text>
<text x="1377.4" y="957.3" font-size="20" font-weight="bold" stroke="#000" stroke-width="0.4" text-anchor="middle">0.9</text>
<text x="1377.5" y="989.9" font-size="20" font-weight="bold" stroke="#000" stroke-width="0.4" text-anchor="middle">-</text>
<text x="1417.4" y="928.3" font-size="20" font-weight="bold" stroke="#000" stroke-width="0.4" text-anchor="middle">+</text>
<text x="1417.1" y="957.3" font-size="20" font-weight="bold" stroke="#000" stroke-width="0.4" text-anchor="middle">1.6</text>
<text x="1417.2" y="989.9" font-size="20" font-weight="bold" stroke="#000" stroke-width="0.4" text-anchor="middle">-</text>
<text x="1457.1" y="928.3" font-size="20" font-weight="bold" stroke="#000" stroke-width="0.4" text-anchor="middle">+</text>
<text x="1456.8" y="957.3" font-size="20" font-weight="bold" stroke="#000" stroke-width="0.4" text-anchor="middle">-</text>
<text x="1459.9" y="989.3" font-size="20" font-weight="bold" stroke="#000" stroke-width="0.4" text-anchor="middle">1.6</text>
<text x="1484.7" y="926.4" font-size="19" font-weight="bold" stroke="#000" stroke-width="0.4" textLength="182.5" lengthAdjust="spacingAndGlyphs">TTR siRNA (9 mg/kg)</text>
<text x="1483" y="956.8" font-size="19" font-weight="bold" stroke="#000" stroke-width="0.4" textLength="261.7" lengthAdjust="spacingAndGlyphs">9-mer TTR REVERSIR (mg/kg)</text>
<text x="1483" y="988.6" font-size="19" font-weight="bold" stroke="#000" stroke-width="0.4" textLength="250.7" lengthAdjust="spacingAndGlyphs">9-mer NT REVERSIR (mg/kg)</text>
</g>
</svg>
</body></html>
